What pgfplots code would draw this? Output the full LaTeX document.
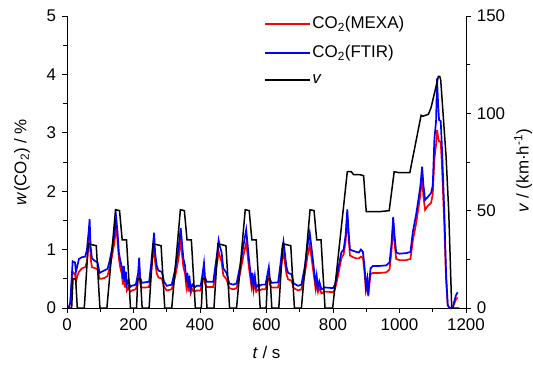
\documentclass[border=0pt]{standalone}
\usepackage{fontspec}
\setmainfont{Liberation Sans}
\usepackage{pgfplots}
\pgfplotsset{compat=1.18}
\begin{document}
\fontsize{17}{20}\selectfont
\begin{tikzpicture}
\pgfplotsset{
  common/.style={
    scale only axis, width=399bp, height=292bp, at={(0,0)}, anchor=south west,
    xmin=0, xmax=1200,
    /pgf/number format/assume math mode=true,
    /pgf/number format/1000 sep={},
    tick align=outside, major tick length=5bp, minor tick length=4bp,
    tick style={black, line width=0.8bp},
    axis line style={line width=0.8bp},
  }
}
\begin{axis}[common, ymin=0, ymax=5,
  axis x line*=bottom, axis y line*=left,
  xtick={0,200,...,1200}, minor x tick num=1,
  ytick={0,1,...,5}, minor y tick num=1,
  xlabel={\textit{t} / s}, ylabel={\textit{w}(CO\textsubscript{2}) / \%},
  xlabel style={at={(axis description cs:0.5,-0.151)}, anchor=center},
  ylabel style={at={(axis description cs:-0.113,0.5)}, anchor=center}]
% CO2 MEXA (red)
\addplot[red, line width=1.7bp] coordinates {
(5,0.00) (10,0.08) (17,0.62) (24,0.58) (27,0.45) (31,0.55) (36,0.62) (45,0.68) (55,0.70) (60,0.80)
(65,1.10) (68,1.28) (71,0.85) (75,0.70) (85,0.68) (92,0.66) (98,0.50) (104,0.50) (115,0.52) (122,0.55)
(128,0.68) (135,0.88) (142,1.10) (148,1.38) (152,1.15) (156,0.85) (160,0.70) (165,0.58) (168,0.40) (171,0.58)
(174,0.35) (177,0.50) (180,0.30) (185,0.36) (190,0.28) (195,0.30)
(207,0.32) (214,0.49) (217,0.71) (220,0.42) (225,0.35) (235,0.35) (247,0.36) (253,0.62) (258,0.88) (262,1.08)
(265,0.79) (270,0.59) (275,0.52) (285,0.51) (292,0.36) (300,0.30) (315,0.32) (325,0.53) (335,0.83) (342,1.15)
(346,0.92) (350,0.70) (355,0.59) (359,0.36) (362,0.49) (365,0.28) (368,0.45) (372,0.25) (377,0.32) (383,0.28) (390,0.30)
(402,0.30) (408,0.49) (412,0.64) (415,0.42) (420,0.36) (440,0.36) (447,0.62) (453,0.83) (456,0.97) (460,0.88)
(465,0.79) (470,0.56) (480,0.49) (488,0.34) (500,0.32) (510,0.34) (520,0.58) (530,0.88) (539,1.12) (543,0.92)
(547,0.70) (551,0.53) (555,0.36) (558,0.49) (561,0.30) (565,0.45) (569,0.28) (575,0.32) (580,0.30) (585,0.32)
(597,0.32) (603,0.47) (607,0.58) (610,0.40) (615,0.35) (635,0.35) (642,0.62) (647,0.83) (651,0.95) (655,0.79)
(660,0.58) (665,0.49) (675,0.47) (682,0.34) (695,0.30) (705,0.32) (715,0.58) (723,0.88) (730,1.08) (735,0.88)
(740,0.66) (744,0.49) (748,0.32) (751,0.45) (755,0.28) (759,0.36) (765,0.25) (775,0.28) (780,0.28)
(800,0.27) (806,0.32) (815,0.55) (825,0.85) (832,0.92) (838,1.15) (843,1.55) (847,1.20) (851,0.90) (860,0.87)
(870,0.85) (878,0.85) (884,0.88) (890,0.86) (895,0.60) (899,0.30) (903,0.42) (906,0.20) (909,0.38) (913,0.58)
(920,0.60) (940,0.60) (960,0.61) (970,0.66) (976,0.98) (981,1.42) (985,1.12) (990,0.84) (1000,0.82) (1020,0.82)
(1033,0.84) (1040,1.15) (1050,1.45) (1058,1.75) (1063,1.95) (1068,2.25) (1072,1.90) (1077,1.68) (1085,1.75) (1095,1.80)
(1100,1.95) (1105,2.55) (1110,2.80) (1113,3.05) (1116,2.92) (1119,2.85) (1124,2.85) (1128,2.40) (1135,1.40) (1140,0.50)
(1145,0.05) (1150,0.00) (1160,0.00) (1165,0.08) (1170,0.15) (1175,0.18)
};
% CO2 FTIR (blue)
\addplot[blue, line width=1.7bp] coordinates {
(5,0.00) (10,0.10) (17,0.80) (24,0.78) (27,0.62) (31,0.72) (36,0.84) (45,0.87) (55,0.88) (60,1.00)
(65,1.30) (68,1.52) (71,1.05) (75,0.85) (85,0.80) (92,0.78) (98,0.60) (104,0.62) (115,0.65) (122,0.67)
(128,0.80) (135,1.00) (142,1.25) (148,1.54) (152,1.30) (156,0.95) (160,0.82) (165,0.70) (168,0.50) (171,0.72)
(174,0.45) (177,0.62) (180,0.40) (185,0.48) (190,0.36) (195,0.38)
(207,0.40) (214,0.60) (217,0.86) (220,0.52) (225,0.43) (235,0.44) (247,0.45) (253,0.75) (258,1.05) (262,1.29)
(265,0.95) (270,0.72) (275,0.64) (285,0.62) (292,0.45) (300,0.38) (315,0.40) (325,0.65) (335,1.00) (342,1.37)
(346,1.10) (350,0.85) (355,0.72) (359,0.45) (362,0.60) (365,0.35) (368,0.55) (372,0.32) (377,0.40) (383,0.35) (390,0.38)
(402,0.38) (408,0.60) (412,0.77) (415,0.52) (420,0.45) (440,0.45) (447,0.75) (453,1.00) (456,1.16) (460,1.05)
(465,0.95) (470,0.68) (480,0.60) (488,0.42) (500,0.40) (510,0.42) (520,0.70) (530,1.05) (539,1.34) (543,1.10)
(547,0.85) (551,0.65) (555,0.45) (558,0.60) (561,0.38) (565,0.55) (569,0.35) (575,0.40) (580,0.38) (585,0.40)
(597,0.40) (603,0.58) (607,0.70) (610,0.50) (615,0.43) (635,0.44) (642,0.75) (647,1.00) (651,1.14) (655,0.95)
(660,0.70) (665,0.60) (675,0.58) (682,0.42) (695,0.38) (705,0.40) (715,0.70) (723,1.05) (730,1.29) (735,1.05)
(740,0.80) (744,0.60) (748,0.40) (751,0.55) (755,0.35) (759,0.45) (765,0.32) (775,0.35) (780,0.35)
(800,0.34) (806,0.40) (815,0.65) (825,0.95) (832,1.00) (838,1.25) (843,1.69) (847,1.30) (851,1.00) (860,0.98)
(870,0.96) (878,0.95) (884,1.00) (890,0.96) (895,0.70) (899,0.35) (903,0.50) (906,0.22) (909,0.45) (913,0.68)
(920,0.72) (940,0.72) (960,0.73) (970,0.78) (976,1.10) (981,1.56) (985,1.25) (990,0.95) (1000,0.93) (1020,0.94)
(1033,0.96) (1040,1.30) (1050,1.60) (1058,1.90) (1063,2.10) (1068,2.42) (1072,2.10) (1077,1.85) (1085,1.90) (1095,1.97)
(1100,2.10) (1105,2.90) (1110,3.20) (1113,3.93) (1116,3.50) (1119,3.22) (1124,3.20) (1128,2.70) (1135,1.60) (1140,0.60)
(1145,0.05) (1150,0.00) (1160,0.00) (1165,0.12) (1170,0.22) (1175,0.27)
};
\end{axis}
\begin{axis}[common, ymin=0, ymax=150,
  axis x line=none, axis y line*=right,
  ytick={0,50,100,150}, minor y tick num=1,
  ylabel={\textit{v} / (km·h\textsuperscript{-1})},
  ylabel style={at={(axis description cs:1.143,0.47)}, anchor=center},
  legend cell align=left,
  legend image post style={xscale=2.6},
  legend style={at={(axis description cs:0.487,1.012)}, anchor=north west, draw=none, fill=none, row sep=10bp}]
\addlegendimage{red, line width=1.7bp}
\addlegendentry{CO\textsubscript{2}(MEXA)}
\addlegendimage{blue, line width=1.7bp}
\addlegendentry{CO\textsubscript{2}(FTIR)}
\addplot[black, line width=1.5bp] coordinates {
(0,0) (14,0) (18,15) (26,15) (31,0) (52,0) (64,33) (76,32.5) (88,32) (99,0) (120,0) (146,50.5) (158,50) (166,35) (179,35) (191,0)
(209,0) (213,15) (221,15) (226,0) (247,0) (259,33) (271,32.5) (283,32) (294,0) (315,0) (341,50.5) (353,50) (361,35) (374,35) (386,0)
(404,0) (408,15) (416,15) (421,0) (442,0) (454,33) (466,32.5) (478,32) (489,0) (510,0) (536,50.5) (548,50) (556,35) (569,35) (581,0)
(599,0) (603,15) (611,15) (616,0) (637,0) (649,33) (661,32.5) (673,32) (684,0) (705,0) (731,50.5) (743,50) (751,35) (764,35) (776,0)
(799,0) (843,70) (855,70) (862,68.5) (880,68.5) (892,68) (900,49.5) (940,49.5) (969,50) (984,70) (1000,69.5) (1031,69.5)
(1065,99) (1070,98.5) (1087,99.5) (1095,103) (1117,119) (1121,119) (1124,117) (1140,78) (1148,50) (1157,0) (1180,0)
};
\addlegendentry{\textit{v}}
\end{axis}
\pgfresetboundingbox
\path[use as bounding box] (-67bp,-58bp) rectangle (466bp,308bp);
\end{tikzpicture}
\end{document}
